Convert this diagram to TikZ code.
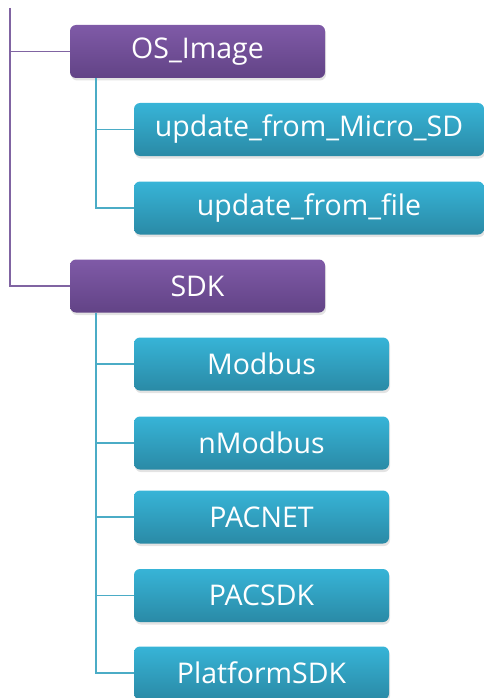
\documentclass[tikz,border=0pt]{standalone}
\usepackage{fontspec}
\setmainfont{Open Sans}
\usetikzlibrary{shadows}
\definecolor{ptop}{HTML}{7F5AA7}
\definecolor{pbot}{HTML}{624386}
\definecolor{ctop}{HTML}{37B4D7}
\definecolor{cbot}{HTML}{2A8AA6}
\definecolor{pline}{HTML}{8064A2}
\definecolor{cline}{HTML}{4BACC6}
\tikzset{
  box/.style={rounded corners=6pt, minimum height=53pt, inner sep=0pt, text=white,
    font=\fontsize{28.5}{34}\selectfont,
    drop shadow={shadow xshift=1pt, shadow yshift=-2.5pt, opacity=0.22}},
  pbox/.style={box, top color=ptop, bottom color=pbot, minimum width=255pt},
  cbox/.style={box, top color=ctop, bottom color=cbot},
  plink/.style={draw=pline, line width=1.6pt},
  clink/.style={draw=cline, line width=1.6pt},
}
\begin{document}
\begin{tikzpicture}[x=1pt,y=-1pt]
\useasboundingbox (0,0) rectangle (484,698);
\node[pbox] (os) at (197.5,51.5) {OS\_Image};
\node[pbox] (sdk) at (197.5,286) {SDK};
\node[cbox, minimum width=350pt] (msd) at (309,129.5) {update\_from\_Micro\_SD};
\node[cbox, minimum width=350pt] (uff) at (309,208) {update\_from\_file};
\node[cbox, minimum width=255pt] (m1) at (261.5,364) {Modbus};
\node[cbox, minimum width=255pt] (m2) at (261.5,443) {nModbus};
\node[cbox, minimum width=255pt] (m3) at (261.5,517) {PACNET};
\node[cbox, minimum width=255pt] (m4) at (261.5,595.5) {PACSDK};
\node[cbox, minimum width=255pt] (m5) at (261.5,673) {PlatformSDK};
\coordinate (top) at (10,8);
\coordinate (osb) at (96,78);
\coordinate (sdkb) at (96,313);
\draw[plink] (top) |- (sdk.west);
\draw[plink] (top |- os.west) -- (os.west);
\draw[clink] (osb) |- (uff.west);
\draw[clink] (osb |- msd.west) -- (msd.west);
\draw[clink] (sdkb) |- (m5.west);
\draw[clink] (sdkb |- m1.west) -- (m1.west);
\draw[clink] (sdkb |- m2.west) -- (m2.west);
\draw[clink] (sdkb |- m3.west) -- (m3.west);
\draw[clink] (sdkb |- m4.west) -- (m4.west);
\end{tikzpicture}
\end{document}
